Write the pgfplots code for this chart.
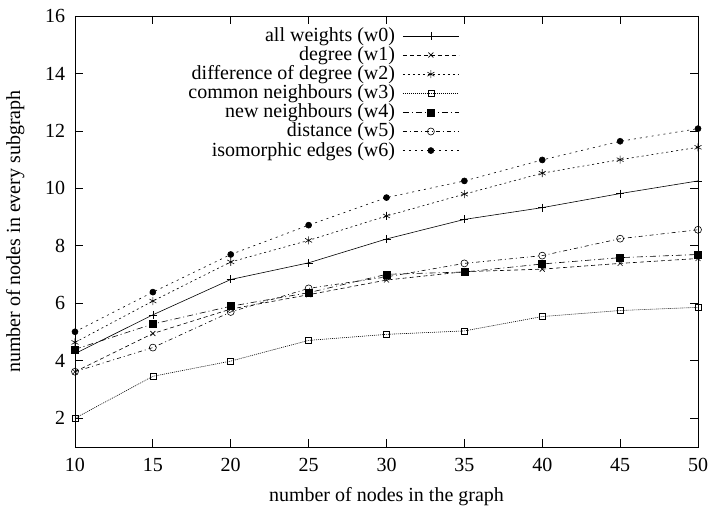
\documentclass[border=0pt]{standalone}
\usepackage{fontspec}
\setmainfont{Liberation Serif}
\usepackage{pgfplots}
\pgfplotsset{compat=1.18}
\usetikzlibrary{plotmarks}

\pgfplotstableread{
n   w0    w1    w2    w3    w4    w5    w6
10  4.25  3.62  4.64  2.00  4.40  3.62  5.01
15  5.60  4.95  6.08  3.46  5.28  4.46  6.39
20  6.83  5.80  7.44  3.99  5.90  5.70  7.70
25  7.41  6.30  8.19  4.71  6.37  6.52  8.72
30  8.24  6.81  9.04  4.92  7.01  6.92  9.68
35  8.92  7.10  9.80  5.04  7.09  7.39  10.26
40  9.33  7.19  10.53 5.54  7.37  7.66  10.99
45  9.82  7.39  11.00 5.75  7.59  8.25  11.64
50  10.26 7.56  11.43 5.86  7.70  8.56  12.08
}\data

\begin{document}
\begin{tikzpicture}
\fontsize{20}{24}\selectfont
% fix the page to the reference's 710x510 frame
\useasboundingbox (-75pt,-63pt) rectangle (635pt,447pt);
\begin{axis}[
 at={(0pt,0pt)},anchor=south west,
 scale only axis,width=623pt,height=431pt,
 xmin=10,xmax=50,ymin=1,ymax=16,
 xtick={10,15,...,50},ytick={2,4,...,16},
 tick align=inside,major tick length=8pt,
 tick style={line width=0.8pt,black},
 axis line style={line width=0.8pt},
 /pgf/number format/assume math mode=true,
 tick label style={font=\fontsize{20}{24}\selectfont},
 xticklabel style={yshift=-4pt},
 yticklabel style={xshift=-3pt},
 label style={font=\fontsize{20}{24}\selectfont},
 xlabel={number of nodes in the graph},
 ylabel={number of nodes in every subgraph},
 xlabel style={at={(axis description cs:0.5,-0.114)},anchor=center},
 ylabel style={at={(axis description cs:-0.096,0.5)},anchor=center},
 every axis plot/.append style={line width=0.6pt,black,mark size=3.5pt,mark options={solid}},
 legend plot pos=right,legend cell align=right,
 legend style={draw=none,fill=none,at={(0.617,0.975)},anchor=north east,
   font=\fontsize{20}{24}\selectfont,row sep=1.2pt,column sep=7pt,inner sep=0pt,
   nodes={inner sep=0.5pt}},
 legend image code/.code={\draw[mark repeat=2,mark phase=2,#1] plot coordinates {(0pt,0pt) (28pt,0pt) (56pt,0pt)};},
]
\addplot[mark=+,mark size=4pt] table[x=n,y=w0] {\data};
\addplot[mark=x,dash pattern=on 4pt off 3pt] table[x=n,y=w1] {\data};
\addplot[mark=asterisk,mark size=4pt,dash pattern=on 2pt off 3pt] table[x=n,y=w2] {\data};
\addplot[mark=square,mark size=3pt,dash pattern=on 1pt off 1pt] table[x=n,y=w3] {\data};
\addplot[mark=square*,mark size=3.5pt,dash pattern=on 6pt off 3pt on 1pt off 3pt] table[x=n,y=w4] {\data};
\addplot[mark=o,dash pattern=on 4pt off 3pt on 1pt off 3pt] table[x=n,y=w5] {\data};
\addplot[mark=*,mark size=3pt,dash pattern=on 2pt off 4pt] table[x=n,y=w6] {\data};
\legend{all weights (w0),degree (w1),difference of degree (w2),common neighbours (w3),new neighbours (w4),distance (w5),isomorphic edges (w6)}
\end{axis}
\end{tikzpicture}
\end{document}
